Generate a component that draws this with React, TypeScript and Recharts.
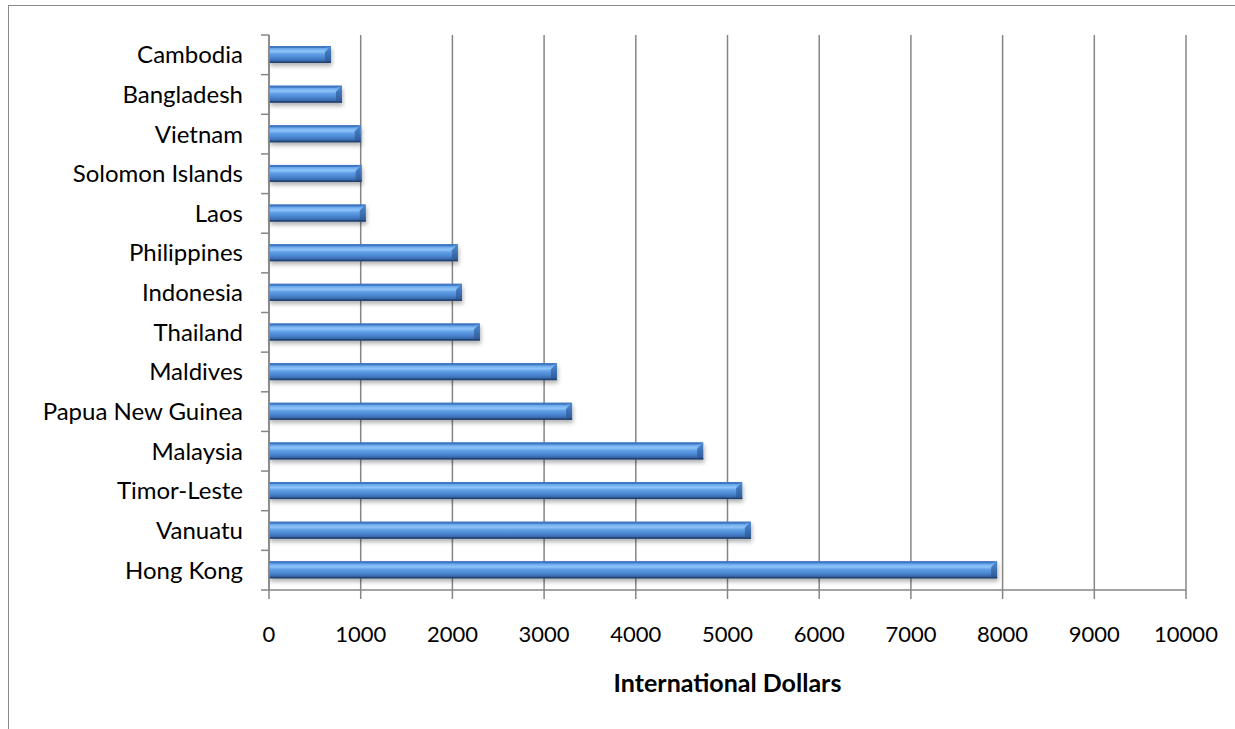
import React from "react";
import { Bar, BarChart, CartesianGrid, XAxis, YAxis } from "recharts";

// GDP per capita style ranking (top → bottom).
const countries = [
  "Cambodia",
  "Bangladesh",
  "Vietnam ",
  "Solomon Islands",
  "Laos",
  "Philippines",
  "Indonesia",
  "Thailand",
  "Maldives",
  "Papua New Guinea",
  "Malaysia",
  "Timor-Leste",
  "Vanuatu",
  "Hong Kong",
];
const dollars = [676, 795, 1000, 1010, 1055, 2060, 2105, 2300, 3140, 3305, 4735, 5160, 5255, 7940];
const xTicks = [0, 1000, 2000, 3000, 4000, 5000, 6000, 7000, 8000, 9000, 10000];
const xTitle = "International Dollars";

const rows = countries.map((name, i) => ({ name, value: dollars[i] }));

const FONT = "Lato, Carlito, Calibri, 'Open Sans', sans-serif";
const AXIS = "#868686";

function BevelBar(props: any) {
  const { x, y, width, height } = props;
  if (!width || width <= 0) return null;
  const b = Math.min(6, width / 2);
  const r = x + width;
  return (
    <g filter="url(#barShadow)">
      <rect x={x} y={y} width={width} height={height} fill="url(#barFill)" />
      <polygon
        points={`${x},${y} ${r},${y} ${r - b},${y + 2} ${x},${y + 2}`}
        fill="#3f78c4"
      />
      <polygon
        points={`${r - b},${y + b} ${r},${y} ${r},${y + height} ${r - b},${y + height - 2}`}
        fill="url(#capFill)"
      />
      <rect x={x} y={y + height - 1.5} width={width} height={1.5} fill="#23436f" />
    </g>
  );
}

function CountryTick(props: any) {
  const { x, y, payload, index, height } = props;
  const band = (height || 555) / countries.length;
  const axisX = x + 26;
  const top = y - band / 2;
  return (
    <g>
      <line x1={axisX - 8} x2={axisX} y1={top} y2={top} stroke={AXIS} strokeWidth={1.5} />
      {index === countries.length - 1 && (
        <line x1={axisX - 8} x2={axisX} y1={top + band} y2={top + band} stroke={AXIS} strokeWidth={1.5} />
      )}
      <text x={x} y={y} dy="0.35em" textAnchor="end" fontFamily={FONT} fontSize={24} fill="#000">
        {payload.value}
      </text>
    </g>
  );
}

function XTitle(props: any) {
  const vb = props.viewBox || {};
  return (
    <text
      x={vb.x + vb.width / 2}
      y={vb.y + 102}
      textAnchor="middle"
      fontFamily={FONT}
      fontSize={25}
      fontWeight="bold"
      fill="#000"
    >
      {xTitle}
    </text>
  );
}

export default function App() {
  return (
    <div style={{ position: "relative", width: 1235, height: 729, background: "#fff", overflow: "hidden" }}>
      <style>{"body{margin:0}"}</style>
      <div
        style={{
          position: "absolute",
          left: 8,
          top: 5,
          width: 1300,
          height: 800,
          border: "1.5px solid #8a8a8a",
          boxSizing: "border-box",
        }}
      />
      <BarChart
        width={1235}
        height={729}
        data={rows}
        layout="vertical"
        margin={{ top: 35, right: 49, bottom: 0, left: 0 }}
        barSize={17}
        style={{ position: "absolute", left: 0, top: 0 }}
      >
        <defs>
          <linearGradient id="barFill" x1="0" y1="0" x2="0" y2="1">
            <stop offset="0" stopColor="#3c74bd" />
            <stop offset="0.15" stopColor="#6aa8ec" />
            <stop offset="0.32" stopColor="#8fc4f8" />
            <stop offset="0.48" stopColor="#5f9ee6" />
            <stop offset="0.7" stopColor="#4a86d0" />
            <stop offset="0.88" stopColor="#3a69ad" />
            <stop offset="1" stopColor="#2a4f86" />
          </linearGradient>
          <linearGradient id="capFill" x1="0" y1="0" x2="0" y2="1">
            <stop offset="0" stopColor="#4d89d3" />
            <stop offset="1" stopColor="#2e5893" />
          </linearGradient>
          <filter id="barShadow" x="-5%" y="-30%" width="110%" height="190%">
            <feDropShadow dx="1" dy="3" stdDeviation="2.2" floodColor="#000" floodOpacity="0.3" />
          </filter>
        </defs>
        <CartesianGrid horizontal={false} stroke={AXIS} strokeWidth={1.5} />
        <XAxis
          type="number"
          domain={[0, 10000]}
          ticks={xTicks}
          interval={0}
          stroke={AXIS}
          strokeWidth={1.5}
          tickSize={9}
          tickMargin={27}
          height={139}
          tick={{ fill: "#000", fontSize: 22, fontFamily: FONT }}
          label={<XTitle />}
        />
        <YAxis
          type="category"
          dataKey="name"
          width={269}
          stroke={AXIS}
          strokeWidth={1.5}
          tickLine={false}
          tickMargin={26}
          tickSize={0}
          interval={0}
          tick={<CountryTick />}
        />
        <Bar dataKey="value" shape={<BevelBar />} isAnimationActive={false} />
      </BarChart>
    </div>
  );
}
